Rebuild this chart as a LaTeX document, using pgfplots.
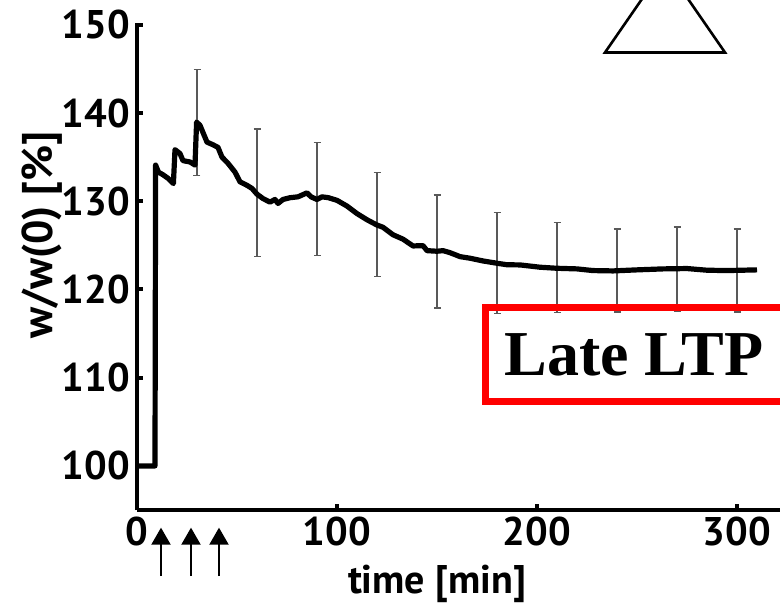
\documentclass[border=0pt]{standalone}
\usepackage{pgfplots}
\pgfplotsset{compat=1.18}
\usepackage{fontspec}
\setmainfont{PT Sans}
\newfontfamily\timesfont{Liberation Serif}
\usetikzlibrary{arrows.meta}

\begin{document}
\begin{tikzpicture}
\useasboundingbox (-68.5pt,-46pt) rectangle (321.5pt,255pt);
\clip (-68.5pt,-46pt) rectangle (321.5pt,255pt);
\begin{axis}[
    scale only axis,
    width=321.5pt,
    height=243.5pt,
    xmin=0, xmax=321.5,
    ymin=95, ymax=150.2,
    axis x line*=bottom,
    axis y line*=left,
    axis line style={line width=2pt, -},
    xtick={0,100,200,300},
    ytick={100,110,...,150},
    tick align=inside,
    major tick length=3pt,
    tick style={line width=2pt, black},
    ticklabel style={font=\bfseries\fontsize{20}{24}\selectfont},
    /pgf/number format/assume math mode=true,
    xlabel={time [min]},
    ylabel={w/w(0) [\%]},
    every axis x label/.style={at={(axis description cs:0.4666,0)}, anchor=center, yshift=-37pt,
        font=\bfseries\fontsize{20}{24}\selectfont},
    every axis y label/.style={at={(axis description cs:-0.1477,0.565)}, rotate=90, anchor=center,
        font=\bfseries\fontsize{21.5}{25}\selectfont},
    clip=false,
]

% error bars (every 30 min)
\addplot[draw=none, mark=none, forget plot,
    error bars/.cd, y dir=both, y explicit,
    error bar style={draw=black!65, solid, line width=0.6pt},
    error mark options={draw=black!65, solid, line width=0.6pt, mark size=1.75pt, rotate=90},
] table[x=t, y=m, y error=e] {
t   m      e
30  138.92 6.00
60  130.95 7.23
90  130.24 6.40
120 127.35 5.90
150 124.30 6.40
180 123.00 5.76
210 122.48 5.08
240 122.15 4.70
270 122.30 4.77
300 122.15 4.70
};

% mean weight
\addplot[black, line width=2.6pt, line join=round, mark=none] coordinates {
(0,100) (9,100) (9.3,134.1) (10.7,133.3) (13,133.0) (15.5,132.6) (18.2,132.0)
(19,135.85) (21.5,135.4) (23,134.6) (26.5,134.45) (29,134.1)
(29.8,138.97) (31.5,138.6) (35,136.7) (38,136.4) (40.5,136.1) (42.5,135.0)
(45.5,134.3) (49,133.3) (51.5,132.2) (55,131.8) (57.5,131.45) (60,130.8)
(63,130.3) (66.5,129.9) (69,130.2) (70.5,129.75) (73,130.2) (76.5,130.4)
(80.5,130.5) (85,130.95) (87,130.5) (90,130.2) (92.5,130.5) (95.7,130.4)
(100,130.1) (105,129.45) (110,128.6) (115,127.9) (120,127.3) (123,127.05)
(128,126.2) (133,125.7) (138,124.93) (143,124.97) (145,124.4) (150,124.33)
(153,124.4) (156.5,124.17) (161.5,123.72) (166.5,123.54) (173,123.23)
(180,122.97) (185,122.8) (191.5,122.78) (201.5,122.52) (210,122.4)
(220,122.33) (228,122.14) (238,122.1) (250,122.22) (263,122.33)
(275,122.37) (285,122.18) (295,122.14) (310,122.22)
};

% stimulation arrows
\draw[line width=1pt, -{Triangle[width=9.5pt,length=8.5pt]}] (axis cs:12,87.5) -- (axis cs:12,93.0);
\draw[line width=1pt, -{Triangle[width=9.5pt,length=8.5pt]}] (axis cs:27,87.5) -- (axis cs:27,93.0);
\draw[line width=1pt, -{Triangle[width=9.5pt,length=8.5pt]}] (axis cs:41,87.5) -- (axis cs:41,93.0);

% triangle at top
\draw[line width=1.3pt, line join=miter] (axis cs:234,146.86) -- (axis cs:294,146.86) -- (axis cs:264,156.7) -- cycle;

% red box
\draw[red, line width=3.5pt] (axis cs:174,117.98) rectangle (axis cs:340,107.25);
\node[font=\timesfont\bfseries\fontsize{32}{36}\selectfont, anchor=center] at (axis cs:248.5,112.6) {Late LTP};

\end{axis}
\end{tikzpicture}
\end{document}
